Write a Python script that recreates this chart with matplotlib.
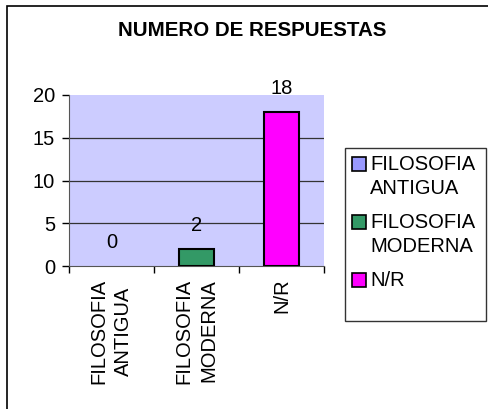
import matplotlib
matplotlib.use("Agg")
import matplotlib.pyplot as plt
from matplotlib.patches import Rectangle

plt.rcParams['font.family'] = ['Liberation Sans', 'DejaVu Sans']

categories = ["FILOSOFIA\nANTIGUA", "FILOSOFIA\nMODERNA", "N/R"]
legend_labels = ["FILOSOFIA\nANTIGUA", "FILOSOFIA\nMODERNA", "N/R"]
values = [0, 2, 18]
colors = ["#9999FF", "#339966", "#FF00FF"]
yticks = [0, 5, 10, 15, 20]

W, H = 488, 409
fig = plt.figure(figsize=(W / 100, H / 100), dpi=100)

# outer frame of the chart area
fig.patches.append(Rectangle((7 / W, -0.1), 1.2, 1.1 - 6 / H, transform=fig.transFigure,
                             fill=False, edgecolor="black", linewidth=1.2))

ax = fig.add_axes([69 / W, 1 - 266 / H, 255 / W, 171 / H])
ax.set_facecolor("#CCCCFF")

x = range(len(values))
lw = [1.5 if v > 0 else 0 for v in values]
ax.bar(x, values, width=0.41, color=colors, edgecolor="black", linewidth=lw, zorder=3)
for xi, v in zip(x, values):
    ax.annotate(str(v), (xi, v), xytext=(0, 10), textcoords="offset points",
                ha="center", va="bottom", fontsize=14.5)

ax.set_xlim(-0.5, 2.5)
ax.set_ylim(0, 20)
ax.set_yticks(yticks)
for t in yticks[1:-1]:
    ax.axhline(t, color="#333333", linewidth=0.9, zorder=1)

ax.set_xticks([-0.5, 0.5, 1.5, 2.5], minor=False)
ax.set_xticklabels([])
ax.set_xticks(list(x), minor=True)
ax.set_xticklabels(categories, minor=True, rotation=90, fontsize=14.5, va="top",
                   linespacing=1.38)
ax.tick_params(axis="x", which="major", length=5, direction="out", width=1)
ax.tick_params(axis="x", which="minor", length=0, pad=9)
ax.tick_params(axis="y", length=5, direction="out", width=1, labelsize=14.5, pad=5)

for side in ["top", "right"]:
    ax.spines[side].set_visible(False)
ax.spines["left"].set_color("#555555")
ax.spines["bottom"].set_color("#555555")

fig.text(252 / W, 1 - 31 / H, "NUMERO DE RESPUESTAS", ha="center", va="center",
         fontsize=14.8, fontweight="bold")

# legend box, drawn by hand so the swatch sits on the first text line
fig.patches.append(Rectangle((345 / W, 1 - 321 / H), 141 / W, 173 / H,
                             transform=fig.transFigure, fill=False,
                             edgecolor="#333333", linewidth=1.0))
y = 164
for c, lab in zip(colors, legend_labels):
    fig.patches.append(Rectangle((352 / W, 1 - (y + 7) / H), 14 / W, 14 / H,
                                 transform=fig.transFigure, facecolor=c,
                                 edgecolor="black", linewidth=1.2))
    fig.text(370 / W, 1 - (y - 9) / H, lab, ha="left", va="top", fontsize=14.5,
             linespacing=1.32)
    y += 25 * len(lab.split("\n")) + 8

fig.savefig("out.png", dpi=100)
